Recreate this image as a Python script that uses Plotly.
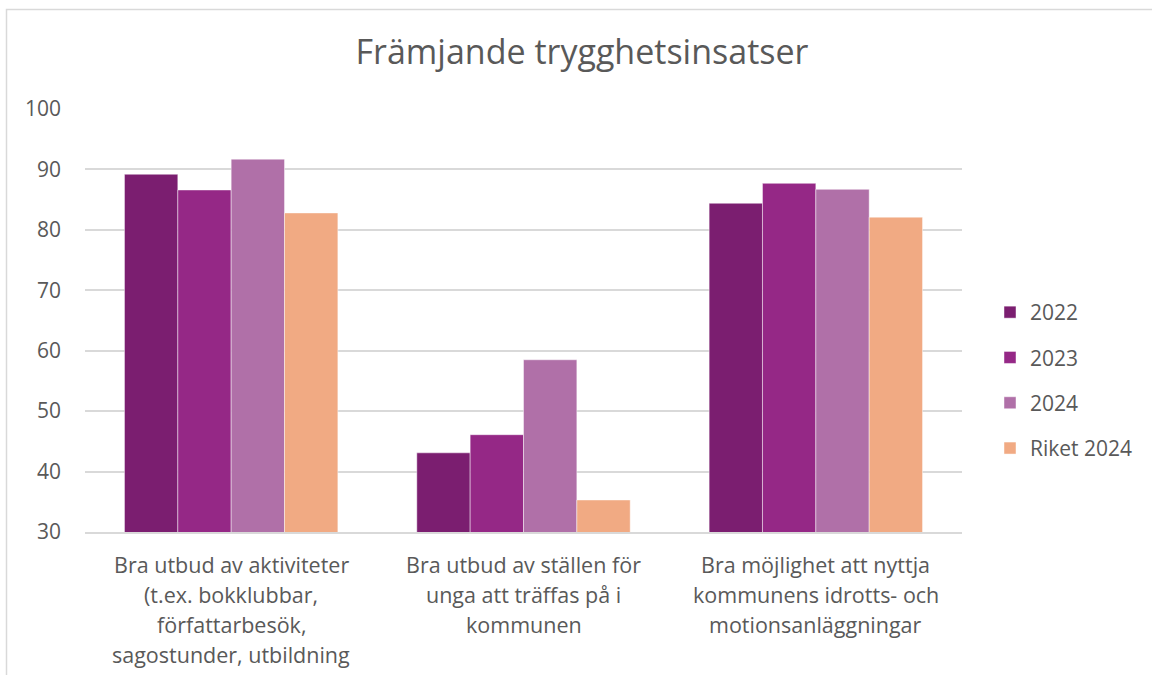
import plotly.graph_objects as go

categories = [
    "Bra utbud av aktiviteter<br>(t.ex. bokklubbar,<br>författarbesök,<br>sagostunder, utbildning",
    "Bra utbud av ställen för<br>unga att träffas på i<br>kommunen",
    "Bra möjlighet att nyttja<br>kommunens idrotts- och<br>motionsanläggningar",
]
series_names = ["2022", "2023", "2024", "Riket 2024"]
values_2022 = [89.2, 43.1, 84.4]
values_2023 = [86.6, 46.1, 87.7]
values_2024 = [91.7, 58.5, 86.7]
values_riket = [82.8, 35.3, 82.1]
y_ticks = [30, 40, 50, 60, 70, 80, 90, 100]
colors = ["#7B1E70", "#952886", "#B070A8", "#F1AA83"]

FONT = "Open Sans"
TXT = "#595959"

W, H = 1152, 675
ML, MR, MT, MB = 85, 190, 109, 143
PW, PH = W - ML - MR, H - MT - MB

fig = go.Figure()
for i, (name, vals) in enumerate(zip(series_names, [values_2022, values_2023, values_2024, values_riket])):
    fig.add_trace(go.Bar(
        x=categories, y=vals, name=name, legendgroup=name,
        marker=dict(color=colors[i], line=dict(color="rgba(255,255,255,0.45)", width=1)),
    ))

# category labels as annotations (one per line, for wider line spacing)
for cat in categories:
    for j, line in enumerate(cat.split("<br>")):
        fig.add_annotation(
            x=cat, xref="x", y=0, yref="paper", text=line, showarrow=False,
            yanchor="middle", yshift=-(32 + 30 * j),
            font=dict(family=FONT, size=21.5, color=TXT),
        )

# outer chart border (top and left visible)
fig.add_shape(type="rect", xref="paper", yref="paper",
              x0=(6.5 - ML) / PW, x1=(1200 - ML) / PW,
              y0=-(720 - (H - MB)) / PH, y1=1 + (MT - 9.5) / PH,
              line=dict(color="#D9D9D9", width=1.5), layer="below")

fig.update_layout(
    width=W, height=H,
    margin=dict(l=ML, r=MR, t=MT, b=MB, autoexpand=False),
    paper_bgcolor="white", plot_bgcolor="white",
    barmode="group", bargap=0.27, bargroupgap=0,
    title=dict(text="Främjande trygghetsinsatser", x=582 / W, xanchor="center",
               y=1 - 52 / H, yanchor="middle", yref="container",
               font=dict(family=FONT, size=34, color=TXT)),
    font=dict(family=FONT, size=21, color=TXT),
    xaxis=dict(showticklabels=False, showline=True, linecolor="#D9D9D9", linewidth=1.5,
               ticks=""),
    yaxis=dict(range=[30, 100], tickvals=y_ticks, showgrid=True, gridcolor="#D9D9D9",
               gridwidth=1.5, zeroline=False, showline=False, ticks="",
               ticklabelstandoff=23, tickfont=dict(family=FONT, size=21, color=TXT)),
    legend=dict(x=(990 - ML) / PW, xanchor="left", y=0.5 - 60 / PH, yanchor="middle",
                font=dict(family=FONT, size=21, color=TXT), tracegroupgap=15,
                itemwidth=30),
)

fig.write_html("out.html", config={"displayModeBar": False},
               post_script="document.body.style.margin='0';document.body.style.overflow='hidden';")
